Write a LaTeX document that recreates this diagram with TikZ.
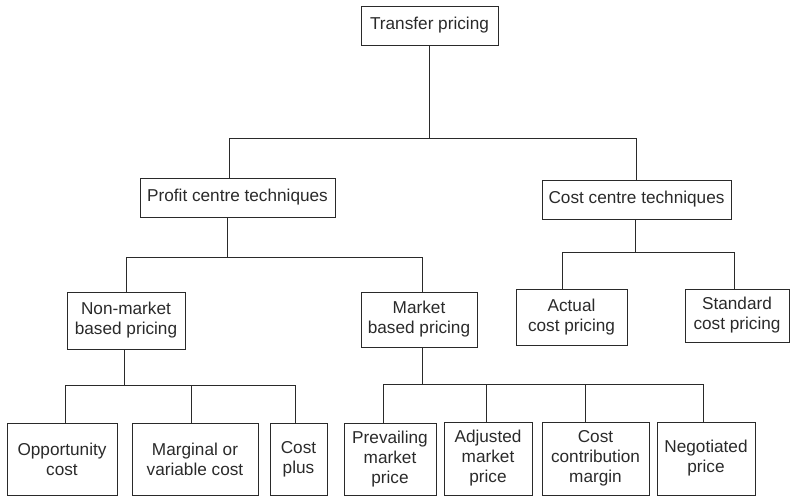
\documentclass[tikz,border=0pt]{standalone}
\usepackage{fontspec}
\setmainfont{Liberation Sans}
\definecolor{ink}{HTML}{2A2A2A}
\begin{document}
\begin{tikzpicture}[x=1pt,y=-1pt,
  box/.style={draw=ink, line width=1pt, text=ink, inner sep=0pt, align=center,
    font=\fontsize{17.2}{20}\selectfont},
  conn/.style={draw=ink, line width=1pt}]
\useasboundingbox (0,0) rectangle (791,496);
% level 0
\node[box, minimum width=137, minimum height=39] (tp) at (429.5,25.5) {Transfer pricing};
% level 1
\node[box, minimum width=195, minimum height=39] (pc) at (237.5,197.5) {Profit centre techniques};
\node[box, minimum width=189, minimum height=39] (cc) at (636.5,199.5) {Cost centre techniques};
% level 2
\node[box, minimum width=118, minimum height=57] (nm) at (126,320.5) {Non-market\\based pricing};
\node[box, minimum width=116, minimum height=55] (mb) at (419,319.5) {Market\\based pricing};
\node[box, minimum width=111, minimum height=56] (ac) at (571.5,317) {Actual\\cost pricing};
\node[box, minimum width=104, minimum height=53] (sc) at (737,315.5) {Standard\\cost pricing};
% level 3
\node[box, minimum width=110, minimum height=72] (op) at (62,459) {Opportunity\\cost};
\node[box, minimum width=126, minimum height=72] (mv) at (195,459) {Marginal or\\variable cost};
\node[box, minimum width=57, minimum height=72] (cp) at (298.5,459) {Cost\\plus};
\node[box, minimum width=92, minimum height=72] (pm) at (390,459) {Prevailing\\market\\price};
\node[box, minimum width=88, minimum height=73] (am) at (488,458.5) {Adjusted\\market\\price};
\node[box, minimum width=107, minimum height=73] (ccm) at (595.5,458.5) {Cost\\contribution\\margin};
\node[box, minimum width=98, minimum height=73] (ng) at (706,458.5) {Negotiated\\price};
% bus levels
\coordinate (b1) at (0,138);
\coordinate (b2) at (0,257);
\coordinate (b3) at (0,252);
\coordinate (b4) at (0,385);
\coordinate (b5) at (0,384);
% connectors
\draw[conn] (tp.south) -- (tp.south |- b1);
\draw[conn] ([xshift=-8.5pt]pc.north) -- ([xshift=-8.5pt]pc.north |- b1) -- (cc.north |- b1) -- (cc.north);
\draw[conn] ([xshift=-10.5pt]pc.south) -- ([xshift=-10.5pt]pc.south |- b2);
\draw[conn] (nm.north) -- (nm.north |- b2) -- ([xshift=3pt]mb.north |- b2) -- ([xshift=3pt]mb.north);
\draw[conn] ([xshift=-1.5pt]cc.south) -- ([xshift=-1.5pt]cc.south |- b3);
\draw[conn] ([xshift=-9.5pt]ac.north) -- ([xshift=-9.5pt]ac.north |- b3) -- ([xshift=-3pt]sc.north |- b3) -- ([xshift=-3pt]sc.north);
\draw[conn] ([xshift=-2pt]nm.south) -- ([xshift=-2pt]nm.south |- b4);
\draw[conn] ([xshift=3pt]op.north) -- ([xshift=3pt]op.north |- b4) -- ([xshift=-3.5pt]cp.north |- b4) -- ([xshift=-3.5pt]cp.north);
\draw[conn] ([xshift=-4pt]mv.north) -- ([xshift=-4pt]mv.north |- b4);
\draw[conn] ([xshift=3pt]mb.south) -- ([xshift=3pt]mb.south |- b5);
\draw[conn] ([xshift=-7pt]pm.north) -- ([xshift=-7pt]pm.north |- b5) -- ([xshift=-3pt]ng.north |- b5) -- ([xshift=-3pt]ng.north);
\draw[conn] ([xshift=-2pt]am.north) -- ([xshift=-2pt]am.north |- b5);
\draw[conn] ([xshift=-10.5pt]ccm.north) -- ([xshift=-10.5pt]ccm.north |- b5);
\end{tikzpicture}
\end{document}
